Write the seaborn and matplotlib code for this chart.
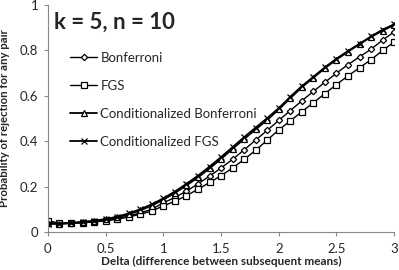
import numpy as np
import pandas as pd
import seaborn as sns
import matplotlib
matplotlib.use("Agg")
import matplotlib.pyplot as plt

delta = [0.0, 0.1, 0.2, 0.3, 0.4, 0.5, 0.6, 0.7, 0.8, 0.9, 1.0,
         1.1, 1.2, 1.3, 1.4, 1.5, 1.6, 1.7, 1.8, 1.9, 2.0,
         2.1, 2.2, 2.3, 2.4, 2.5, 2.6, 2.7, 2.8, 2.9, 3.0]

bonferroni = [0.040, 0.036, 0.038, 0.041, 0.045, 0.051, 0.059, 0.070, 0.084, 0.100, 0.128,
              0.152, 0.180, 0.212, 0.246, 0.282, 0.320, 0.362, 0.405, 0.448, 0.492,
              0.535, 0.578, 0.620, 0.660, 0.700, 0.738, 0.772, 0.806, 0.846, 0.882]
fgs = [0.050, 0.038, 0.039, 0.041, 0.044, 0.049, 0.056, 0.066, 0.078, 0.092, 0.115,
       0.135, 0.160, 0.188, 0.218, 0.248, 0.282, 0.320, 0.360, 0.405, 0.450,
       0.490, 0.530, 0.570, 0.610, 0.650, 0.688, 0.724, 0.760, 0.800, 0.838]
cond_bonferroni = [0.040, 0.036, 0.039, 0.043, 0.048, 0.055, 0.064, 0.078, 0.095, 0.116, 0.142,
                   0.172, 0.205, 0.240, 0.280, 0.322, 0.366, 0.410, 0.452, 0.494, 0.540,
                   0.590, 0.638, 0.680, 0.722, 0.760, 0.795, 0.828, 0.860, 0.888, 0.912]
cond_fgs = [0.035, 0.036, 0.040, 0.044, 0.049, 0.057, 0.067, 0.082, 0.100, 0.122, 0.148,
            0.178, 0.212, 0.248, 0.288, 0.330, 0.374, 0.418, 0.460, 0.502, 0.546,
            0.596, 0.643, 0.684, 0.726, 0.764, 0.798, 0.830, 0.862, 0.892, 0.916]

series = [
    ("Bonferroni", bonferroni, "D", 3.2, 1.0),
    ("FGS", fgs, "s", 4.8, 1.0),
    ("Conditionalized Bonferroni", cond_bonferroni, "^", 5.0, 1.3),
    ("Conditionalized FGS", cond_fgs, "x", 5.0, 1.3),
]

sns.set_style("white")
plt.rcParams["font.family"] = ["Lato", "DejaVu Sans"]

fig = plt.figure(figsize=(3.99, 2.70), dpi=100)
ax = fig.add_axes([0.12, 0.141, 0.868, 0.84])

for name, vals, mk, ms, lw in series:
    df = pd.DataFrame({"delta": delta, "p": vals})
    sns.lineplot(data=df, x="delta", y="p", ax=ax, color="black", linewidth=lw,
                 marker=mk, markersize=ms, markerfacecolor="white" if mk != "x" else "black",
                 markeredgecolor="black", markeredgewidth=0.9, label=name)

ax.set_xlim(0, 3)
ax.set_ylim(0, 1)
ax.set_xticks([0, 0.5, 1, 1.5, 2, 2.5, 3])
ax.set_xticklabels(["0", "0.5", "1", "1.5", "2", "2.5", "3"])
ax.set_yticks([0, 0.2, 0.4, 0.6, 0.8, 1])
ax.set_yticklabels(["0", "0.2", "0.4", "0.6", "0.8", "1"])
ax.tick_params(axis="both", labelsize=9.5, length=3, direction="out", color="#888888",
               bottom=True, left=True, pad=5)
ax.tick_params(axis="y", pad=4)
for s in ["top", "right"]:
    ax.spines[s].set_visible(False)
for s in ["left", "bottom"]:
    ax.spines[s].set_color("#888888")
    ax.spines[s].set_linewidth(0.8)

ax.set_xlabel("Delta (difference between subsequent means)", fontsize=8.5, fontweight="bold", labelpad=1)
ax.set_ylabel("Probability of rejection for any pair", fontsize=8.2, fontweight="bold", labelpad=7)

ax.text(0.018, 0.925, "k = 5, n = 10", transform=ax.transAxes, fontsize=16, fontweight="bold",
        va="center", ha="left")

ax.legend(loc="upper left", bbox_to_anchor=(0.064, 0.795), frameon=False, fontsize=9.5,
          labelspacing=1.22, handlelength=2.05, handletextpad=0.25, borderaxespad=0, borderpad=0)

fig.savefig("out.png", dpi=100)
